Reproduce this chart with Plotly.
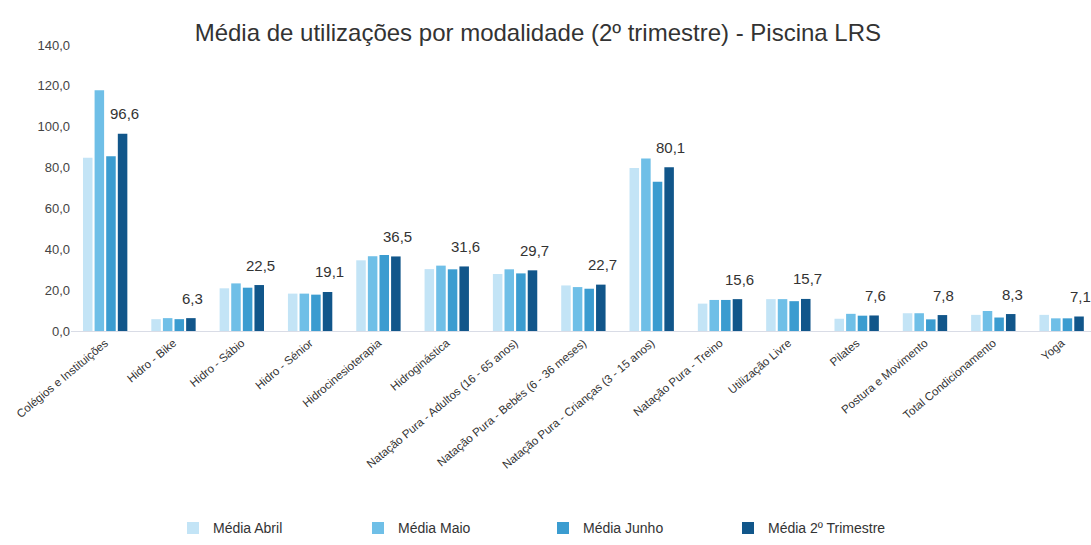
import plotly.graph_objects as go

categories = [
    "Colégios e Instituições", "Hidro - Bike", "Hidro - Sábio", "Hidro - Sénior",
    "Hidrocinesioterapia", "Hidroginástica", "Natação Pura - Adultos (16 - 65 anos)",
    "Natação Pura - Bebés (6 - 36 meses)", "Natação Pura - Crianças (3 - 15 anos)",
    "Natação Pura - Treino", "Utilização Livre", "Pilates", "Postura e Movimento",
    "Total Condicionamento", "Yoga",
]

media_abril = [84.8, 5.8, 20.9, 18.3, 34.6, 30.3, 27.9, 22.3, 79.8, 13.4, 15.6, 6.0, 8.7, 7.9, 7.9]
media_maio = [117.9, 6.3, 23.3, 18.3, 36.6, 32.0, 30.2, 21.5, 84.5, 15.2, 15.6, 8.4, 8.7, 9.8, 6.2]
media_junho = [85.5, 5.8, 21.2, 17.8, 37.2, 30.2, 28.2, 20.7, 73.1, 15.2, 14.6, 7.5, 5.7, 6.6, 6.2]
media_trimestre = [96.6, 6.3, 22.5, 19.1, 36.5, 31.6, 29.7, 22.7, 80.1, 15.6, 15.7, 7.6, 7.8, 8.3, 7.1]

series_names = ["Média Abril", "Média Maio", "Média Junho", "Média 2º Trimestre"]
series_values = [media_abril, media_maio, media_junho, media_trimestre]
colors = ["#c3e4f6", "#6fbfe7", "#3b9cd0", "#11568a"]

fig = go.Figure()
for name, vals, col in zip(series_names, series_values, colors):
    fig.add_trace(go.Bar(
        x=categories, y=vals, name=name, marker_color=col,
        marker_line_width=0,
        hovertemplate="%{x}<br>%{y:.1f}<extra>" + name + "</extra>",
    ))

for cat, v in zip(categories, media_trimestre):
    fig.add_annotation(
        x=cat, y=v, text=f"{v:.1f}".replace(".", ","), showarrow=False,
        xshift=19, yshift=20, font=dict(size=15, color="#333333"),
    )

fig.update_layout(
    width=1091, height=545,
    paper_bgcolor="white", plot_bgcolor="white",
    separators=",.",
    font=dict(family="Liberation Sans Narrow, Arial Narrow, Liberation Sans, sans-serif", color="#444444"),
    title=dict(
        text="Média de utilizações por modalidade (2º trimestre) - Piscina LRS",
        x=0.493, xanchor="center", y=0.94, yanchor="middle",
        font=dict(size=24, color="#333333"),
    ),
    barmode="group", bargap=0.32, bargroupgap=0.18,
    margin=dict(l=71, r=0, t=45, b=211),
    showlegend=True,
    legend=dict(
        orientation="h", x=0.1, xanchor="left", y=-0.69, yanchor="middle",
        entrywidth=140, entrywidthmode="pixels",
        font=dict(size=14, color="#333333"), itemsizing="constant",
    ),
)
fig.update_xaxes(
    tickangle=-40, tickfont=dict(size=11.5, color="#333333"),
    showline=True, linecolor="#d9dce6", linewidth=1,
    range=[-0.5, 14.43], ticks="",
)
fig.update_yaxes(
    range=[0, 140], dtick=20, tickformat=".1f",
    showgrid=False, zeroline=False, showline=False,
    tickfont=dict(size=13, color="#444444"),
)

fig.write_html(
    "out.html",
    config={"displayModeBar": False},
    post_script="document.body.style.margin='0';document.body.style.padding='0';",
)
